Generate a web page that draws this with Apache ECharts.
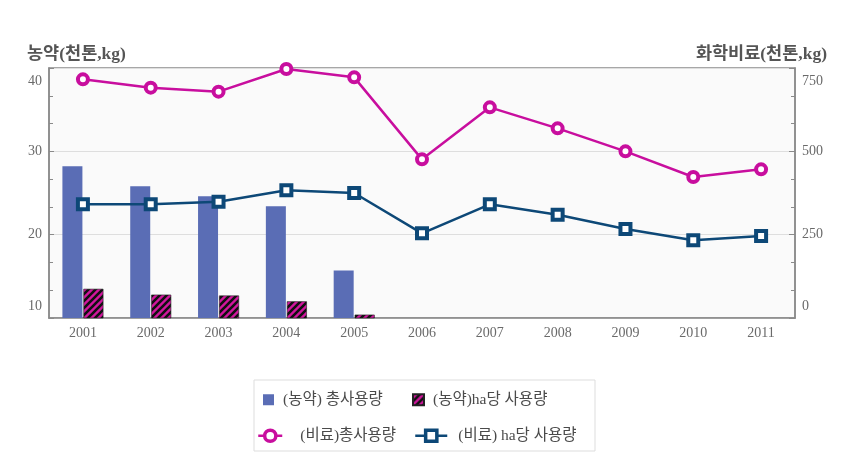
<!DOCTYPE html>
<html><head><meta charset="utf-8">
<script src="https://cdn.jsdelivr.net/npm/echarts@6/dist/echarts.min.js"></script>
<style>html,body{margin:0;padding:0;background:#fff}#c{width:843px;height:456px}</style>
</head><body><div id="c"></div>
<script>
const years = ['2001','2002','2003','2004','2005','2006','2007','2008','2009','2010','2011'];
const pesticideTotal = [28.2, 25.8, 24.6, 23.4, 15.7, null, null, null, null, null, null];
const pesticidePerHa = [13.5, 12.8, 12.7, 12.0, 10.4, null, null, null, null, null, null];
const fertTotal = [716, 691, 679, 747, 722, 476, 632, 569, 500, 423, 446];
const fertPerHa = [341, 341, 349, 383, 375, 254, 341, 310, 267, 233, 246];
const leftTicks = [10, 40, 10];   // min, max, interval
const rightTicks = [0, 750, 250]; // min, max, interval

const names = ['(농약) 총사용량', '(농약)ha당 사용량', '(비료)총사용량', '(비료) ha당 사용량'];

// hatch pattern
const pc = document.createElement('canvas');
pc.width = 7; pc.height = 7;
const g = pc.getContext('2d');
g.fillStyle = '#d1169e'; g.fillRect(0,0,7,7);
g.strokeStyle = '#111'; g.lineWidth = 2.6;
g.beginPath();
g.moveTo(-1, 8); g.lineTo(8, -1);
g.moveTo(-4.5, 4.5); g.lineTo(4.5, -4.5);
g.moveTo(2.5, 11.5); g.lineTo(11.5, 2.5);
g.stroke();
const hatch = {image: pc, repeat: 'repeat'};

const font = '"Liberation Serif", "Noto Sans CJK KR", serif';
const labelColor = '#6a6a6a';
const chart = echarts.init(document.getElementById('c'));

function legendAt(name, left, top, w, h, icon, pad, extra) {
  const o = {data: [name], left: left, top: top, padding: 0, itemWidth: w, itemHeight: h,
    selectedMode: false,
    textStyle: {fontFamily: font, fontSize: 15.5, color: '#4a4a4a', padding: [0,0,0,pad]}};
  if (icon) o.icon = icon;
  if (extra) Object.assign(o, extra);
  return o;
}
function edgeLabels(minV, maxV) {
  return {
    fontFamily: font, fontSize: 14, color: labelColor, margin: 7,
    formatter: function (v) {
      if (v === maxV) return '{t|' + v + '}';
      if (v === minV) return '{b|' + v + '}';
      return '' + v;
    },
    rich: {
      t: {fontFamily: font, fontSize: 14, color: labelColor, padding: [26, 0, 0, 0]},
      b: {fontFamily: font, fontSize: 14, color: labelColor, padding: [0, 0, 24, 0]}
    }
  };
}

const titleStyle = {fontFamily: font, fontSize: 17.5, fontWeight: 'bold', color: '#555'};

chart.setOption({
  backgroundColor: '#fff',
  animation: false,
  title: [
    {text: '농약(천톤,kg)', left: 27, top: 46, padding: 0, textStyle: titleStyle},
    {text: '화학비료(천톤,kg)', right: 16, top: 46, padding: 0, textStyle: titleStyle}
  ],
  graphic: [{type: 'rect', shape: {x: 254, y: 380, width: 341, height: 71}, style: {fill: 'none', stroke: '#dddddd', lineWidth: 1}, silent: true}],
  legend: [
    legendAt(names[0], 263, 392, 11, 11, 'rect', 4),
    legendAt(names[1], 412, 392, 11, 11, 'rect', 4),
    legendAt(names[2], 257, 428, 24, 14, null, 13, {itemStyle: {borderWidth: 3.5}, lineStyle: {width: 2.5}}),
    legendAt(names[3], 414, 428, 32, 14, null, 6, {itemStyle: {borderWidth: 3.5}, lineStyle: {width: 2.5}})
  ],
  grid: {left: 49, right: 48, top: 68, bottom: 138, show: true, backgroundColor: '#fafafa', borderColor: '#8a8a8a', borderWidth: 1.5},
  xAxis: {
    type: 'category', data: years, boundaryGap: true,
    axisLine: {show: true, lineStyle: {color: '#8a8a8a', width: 1.5}},
    axisTick: {show: false},
    axisLabel: {fontFamily: font, fontSize: 14, color: labelColor, margin: 8}
  },
  yAxis: [
    {type: 'value', min: leftTicks[0], max: leftTicks[1], interval: leftTicks[2], position: 'left',
     axisLine: {show: true, lineStyle: {color: '#8a8a8a', width: 1.5}},
     axisTick: {show: true, inside: true, length: 5, lineStyle: {color: '#8a8a8a'}},
     minorTick: {show: true, splitNumber: 3, length: 4, lineStyle: {color: '#8a8a8a'}},
     splitLine: {show: true, lineStyle: {color: '#dedede', width: 1}},
     axisLabel: edgeLabels(leftTicks[0], leftTicks[1])},
    {type: 'value', min: rightTicks[0], max: rightTicks[1], interval: rightTicks[2], position: 'right',
     axisLine: {show: true, lineStyle: {color: '#8a8a8a', width: 1.5}},
     axisTick: {show: true, inside: true, length: 6, lineStyle: {color: '#8a8a8a'}},
     minorTick: {show: true, splitNumber: 3, length: 4, lineStyle: {color: '#8a8a8a'}},
     splitLine: {show: false},
     axisLabel: edgeLabels(rightTicks[0], rightTicks[1])}
  ],
  series: [
    {name: names[0], type: 'bar', yAxisIndex: 0, data: pesticideTotal, barWidth: 20, barGap: '5%',
     itemStyle: {color: '#5a6db5'}},
    {name: names[1], type: 'bar', yAxisIndex: 0, data: pesticidePerHa, barWidth: 20,
     itemStyle: {color: hatch, borderColor: '#222', borderWidth: 0.6}},
    {name: names[2], type: 'line', yAxisIndex: 1, data: fertTotal, symbol: 'circle', symbolSize: 10,
     lineStyle: {color: '#c80e9e', width: 2.5}, itemStyle: {color: '#ffffff', borderColor: '#c80e9e', borderWidth: 4}, z: 4},
    {name: names[3], type: 'line', yAxisIndex: 1, data: fertPerHa, symbol: 'rect', symbolSize: 10,
     lineStyle: {color: '#0d4877', width: 2.5}, itemStyle: {color: '#ffffff', borderColor: '#0d4877', borderWidth: 4}, z: 3}
  ]
});
</script></body></html>
